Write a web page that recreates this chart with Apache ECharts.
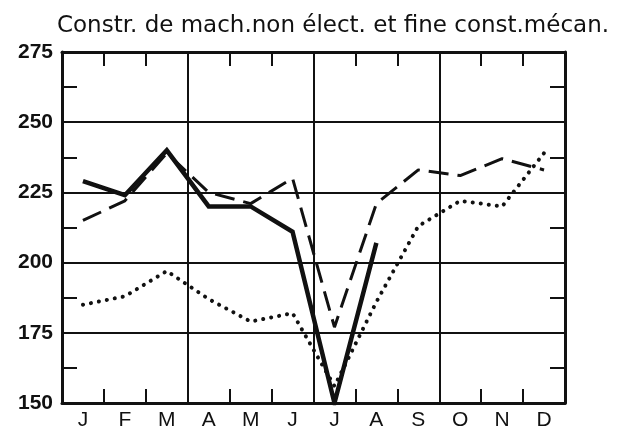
<!DOCTYPE html>
<html>
<head>
<meta charset="utf-8">
<script src="https://cdn.jsdelivr.net/npm/echarts@6/dist/echarts.min.js"></script>
<style>
html, body { margin: 0; padding: 0; background: #fff; }
#echart { width: 624px; height: 433px; }
</style>
</head>
<body>
<div id="echart"></div>
<script>
// --- data -------------------------------------------------------------
var months = ['J', 'F', 'M', 'A', 'M', 'J', 'J', 'A', 'S', 'O', 'N', 'D'];
var seriesSolid = [229, 224, 240, 220, 220, 211, 150, 207, null, null, null, null];
var seriesDashed = [215, 222, 239, 225, 221, 230, 177, 221, 233, 231, 237, 233];
var seriesDotted = [185, 188, 197, 187, 179, 182, 156, 186, 213, 222, 220, 239];
var yTicks = { min: 150, max: 275, step: 25 };

var eChart = echarts.init(document.getElementById('echart'));

var black = '#111';
var fontName = '"Liberation Sans", Arial, sans-serif';

// x axis shared bits
function xAxisBase(pos, withLabels) {
	return {
		type: 'category',
		position: pos,
		data: months,
		boundaryGap: true,
		axisLine: { show: true, lineStyle: { color: black, width: 3 } },
		axisTick: { show: true, inside: true, length: 14, interval: 0, lineStyle: { color: black, width: 2 } },
		axisLabel: {
			show: withLabels,
			interval: 0,
			color: black,
			fontFamily: fontName,
			fontSize: 21,
			margin: 7
		},
		splitLine: {
			show: withLabels,
			interval: function(index) { return index === 3 || index === 6 || index === 9; },
			lineStyle: { color: black, width: 2 }
		}
	};
}

function yAxisBase(pos, withLabels) {
	return {
		type: 'value',
		position: pos,
		min: yTicks.min,
		max: yTicks.max,
		interval: yTicks.step,
		axisLine: { show: true, lineStyle: { color: black, width: 3 } },
		axisTick: { show: true, inside: true, length: 15, lineStyle: { color: black, width: 2 } },
		minorTick: { show: true, splitNumber: 2, length: 15, lineStyle: { color: black, width: 2 } },
		axisLabel: {
			show: withLabels,
			color: black,
			fontFamily: fontName,
			fontWeight: 'bold',
			fontSize: 21,
			margin: 9
		},
		splitLine: { show: withLabels, lineStyle: { color: black, width: 2 } }
	};
}

var eChartOption = {
	animation: false,
	backgroundColor: '#fff',
	title: {
		text: 'Constr. de mach.non élect. et fine const.mécan.',
		left: 328,
		textAlign: 'center',
		top: 10,
		textStyle: { color: black, fontFamily: '"DejaVu Sans", sans-serif', fontWeight: 'normal', fontSize: 23 }
	},
	grid: { left: 62, right: 59, top: 52, bottom: 30, containLabel: false },
	xAxis: [xAxisBase('bottom', true), xAxisBase('top', false)],
	yAxis: [yAxisBase('left', true), yAxisBase('right', false)],
	series: [
		{
			name: 'solid',
			type: 'line',
			data: seriesSolid,
			symbol: 'none',
			connectNulls: false,
			lineStyle: { color: black, width: 4.5, join: 'miter' },
			z: 3
		},
		{
			name: 'dashed',
			type: 'line',
			data: seriesDashed,
			symbol: 'none',
			lineStyle: { color: black, width: 3, type: [20, 9] },
			z: 2
		},
		{
			name: 'dotted',
			type: 'line',
			data: seriesDotted,
			symbol: 'none',
			lineStyle: { color: black, width: 4, type: [0.1, 8], cap: 'round' },
			z: 1
		}
	]
};

eChart.setOption(eChartOption);
</script>
</body>
</html>
